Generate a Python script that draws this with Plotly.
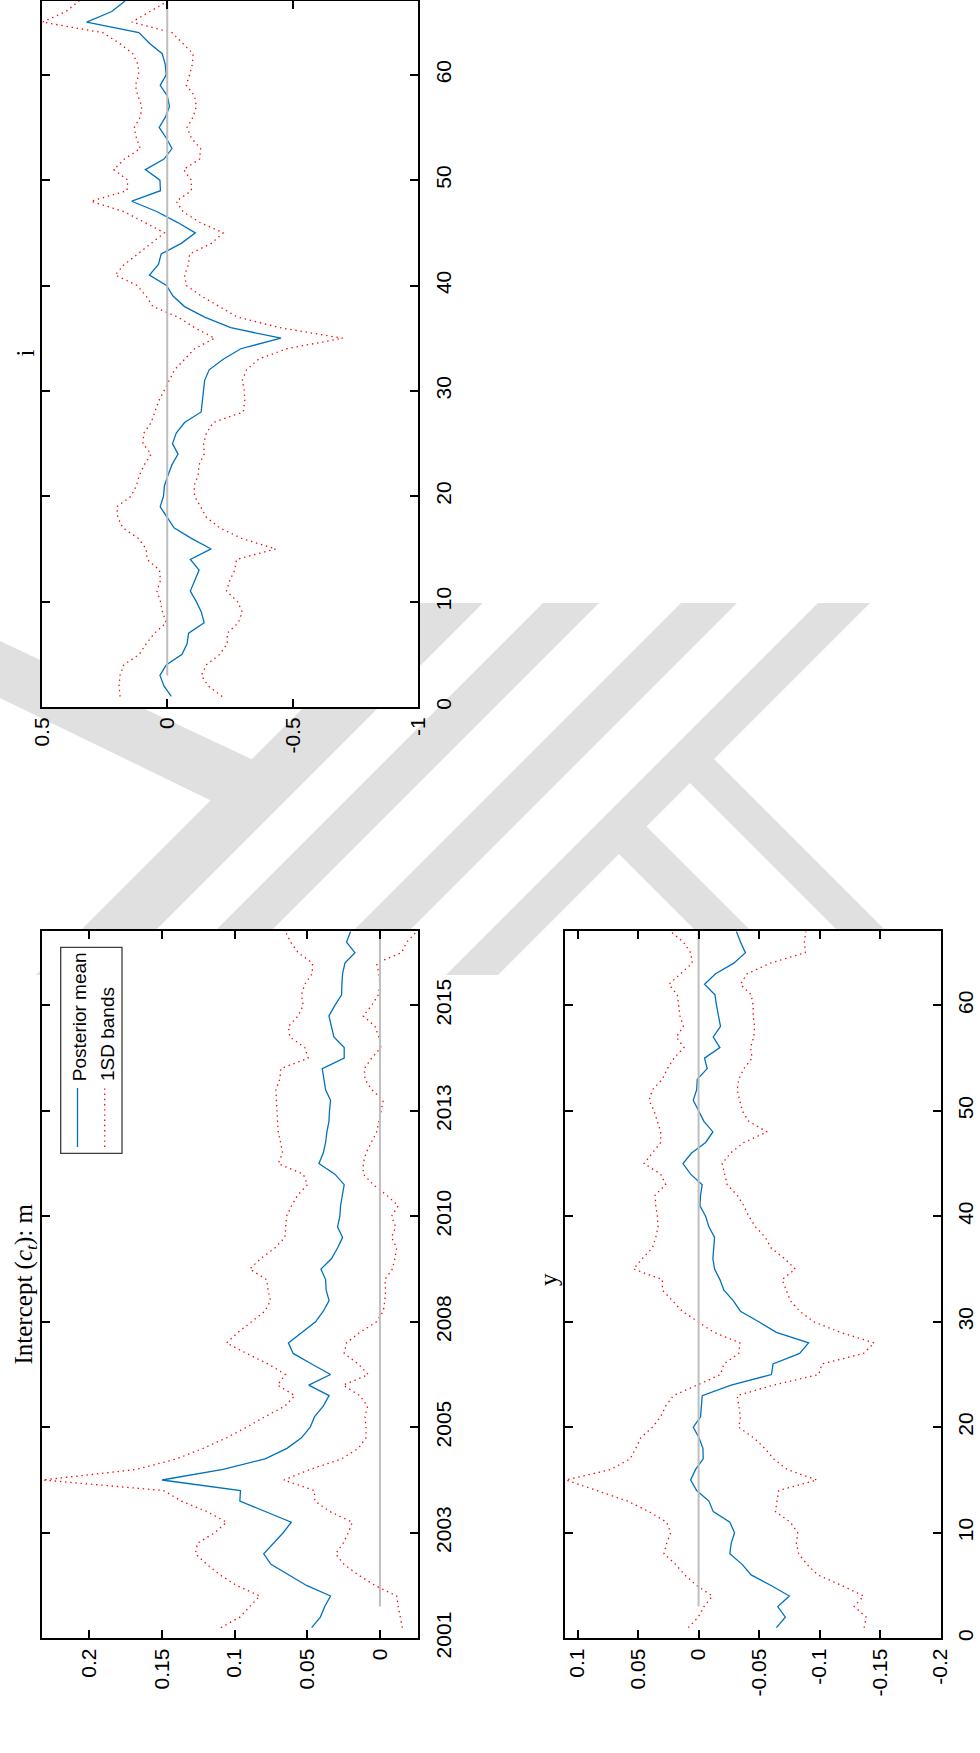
import plotly.graph_objects as go

# ---------------- data ----------------
T = list(range(1, 68))

i_mean = [-0.016, 0.013, 0.029, 0.004, -0.059, -0.079, -0.085, -0.147, -0.136, -0.116,
          -0.092, -0.109, -0.127, -0.092, -0.175, -0.096, -0.027, 0.000, 0.028, 0.015,
          0.011, -0.003, -0.019, -0.043, -0.021, -0.036, -0.069, -0.135, -0.140, -0.145,
          -0.149, -0.167, -0.223, -0.293, -0.453, -0.253, -0.149, -0.069, -0.023, 0.003,
          0.071, 0.035, 0.024, -0.056, -0.112, -0.040, 0.040, 0.141, 0.027, 0.029,
          0.087, 0.013, -0.019, 0.004, 0.032, 0.007, -0.009, 0.000, 0.028, 0.004,
          0.008, 0.020, 0.071, 0.113, 0.321, 0.221, 0.168]
i_upper = [0.188, 0.192, 0.188, 0.173, 0.111, 0.084, 0.051, 0.004, 0.019, 0.027,
           0.041, 0.027, 0.031, 0.080, 0.084, 0.115, 0.177, 0.197, 0.201, 0.144,
           0.123, 0.111, 0.091, 0.064, 0.097, 0.093, 0.064, 0.048, 0.035, 0.013,
           -0.007, -0.029, -0.069, -0.109, -0.189, -0.109, -0.043, 0.057, 0.084, 0.120,
           0.207, 0.171, 0.117, 0.064, 0.011, 0.091, 0.171, 0.304, 0.160, 0.157,
           0.213, 0.171, 0.107, 0.123, 0.131, 0.107, 0.101, 0.117, 0.127, 0.113,
           0.117, 0.137, 0.191, 0.257, 0.497, 0.404, 0.351]
i_lower = [-0.219, -0.163, -0.136, -0.156, -0.209, -0.239, -0.239, -0.283, -0.299, -0.280,
           -0.236, -0.249, -0.269, -0.276, -0.432, -0.296, -0.209, -0.156, -0.133, -0.109,
           -0.107, -0.123, -0.127, -0.147, -0.145, -0.156, -0.183, -0.303, -0.309, -0.307,
           -0.299, -0.316, -0.363, -0.476, -0.699, -0.449, -0.280, -0.209, -0.136, -0.076,
           -0.069, -0.085, -0.089, -0.176, -0.223, -0.129, -0.063, -0.036, -0.096, -0.096,
           -0.065, -0.129, -0.133, -0.096, -0.079, -0.103, -0.116, -0.109, -0.076, -0.089,
           -0.100, -0.103, -0.059, -0.019, 0.141, 0.071, -0.003]

c_mean = [0.047, 0.041, 0.038, 0.034, 0.0505, 0.063, 0.075, 0.080, 0.073, 0.0666,
          0.061, 0.0785, 0.0964, 0.096, 0.150, 0.108, 0.079, 0.064, 0.054, 0.048,
          0.045, 0.039, 0.035, 0.049, 0.034, 0.047, 0.0597, 0.063, 0.054, 0.0443,
          0.039, 0.035, 0.037, 0.0374, 0.0406, 0.0333, 0.0292, 0.0257, 0.0292, 0.0276,
          0.0271, 0.026, 0.0246, 0.031, 0.042, 0.039, 0.0374, 0.0365, 0.0351, 0.0347,
          0.034, 0.0374, 0.0386, 0.0397, 0.0246, 0.0246, 0.0317, 0.0333, 0.0351, 0.031,
          0.0264, 0.0262, 0.0257, 0.0241, 0.0172, 0.023, 0.0202]
c_upper = [0.1095, 0.0964, 0.0896, 0.0827, 0.0987, 0.110, 0.119, 0.127, 0.1256, 0.1137,
           0.1056, 0.119, 0.1366, 0.149, 0.232, 0.1676, 0.140, 0.1217, 0.1056, 0.0918,
           0.0792, 0.0654, 0.0586, 0.0705, 0.065, 0.077, 0.0918, 0.1056, 0.0976, 0.0884,
           0.0792, 0.0753, 0.077, 0.078, 0.0896, 0.082, 0.0723, 0.0654, 0.065, 0.0643,
           0.0608, 0.0567, 0.0498, 0.0528, 0.070, 0.067, 0.0684, 0.070, 0.0705, 0.0707,
           0.071, 0.0716, 0.0689, 0.0682, 0.0494, 0.0517, 0.062, 0.063, 0.0563, 0.0528,
           0.054, 0.0517, 0.0466, 0.0464, 0.0563, 0.0615, 0.065]
c_lower = [-0.0154, -0.0138, -0.0126, -0.0115, 0.0034, 0.0149, 0.0248, 0.0305, 0.0253, 0.0218,
           0.019, 0.0344, 0.0448, 0.0452, 0.0661, 0.0482, 0.0264, 0.0149, 0.0096, 0.0096,
           0.0103, 0.0085, 0.0138, 0.0253, 0.008, 0.0149, 0.0246, 0.023, 0.0138, 0.0023,
           -0.0023, -0.0034, -0.0039, -0.0034, -0.0085, -0.0103, -0.0115, -0.008, -0.0108, -0.008,
           -0.0126, -0.0046, 0.0046, 0.0115, 0.0115, 0.0096, 0.0057, 0.0023, 0.0007, -0.0007,
           -0.0023, 0.0057, 0.0103, 0.0108, 0.0057, -0.0007, 0.0007, 0.0034, 0.0115, 0.0057,
           0.0011, 0.0, 0.0007, 0.0023, -0.0149, -0.0184, -0.0253]

y_mean = [-0.0643, -0.0717, -0.0654, -0.075, -0.0599, -0.0434, -0.036, -0.0258, -0.0269, -0.0297,
          -0.0258, -0.0121, -0.0085, 0.0016, 0.0066, 0.0025, -0.0038, -0.0036, -0.0003, 0.0044,
          -0.0016, -0.0022, -0.003, -0.0269, -0.0602, -0.0615, -0.0835, -0.0909, -0.0643, -0.0497,
          -0.0346, -0.0286, -0.0209, -0.0176, -0.0132, -0.0118, -0.0126, -0.0132, -0.0085, -0.0058,
          -0.0011, -0.0016, -0.003, 0.0066, 0.0129, 0.0058, -0.0058, -0.0118, -0.0044, 0.0003,
          0.0044, 0.0016, 0.0011, -0.0071, -0.0049, -0.0176, -0.0121, -0.0181, -0.0162, -0.0148,
          -0.0135, -0.0049, -0.014, -0.0291, -0.0387, -0.0346, -0.0313]
y_upper = [0.0085, 0.0003, -0.0044, -0.0113, 0.0016, 0.0115, 0.019, 0.0286, 0.0264, 0.0231,
           0.0264, 0.0409, 0.0588, 0.0849, 0.1096, 0.0725, 0.0566, 0.0519, 0.0478, 0.0382,
           0.0313, 0.0272, 0.0209, 0.0011, -0.0181, -0.0209, -0.0332, -0.0341, -0.0126, 0.0005,
           0.0135, 0.0217, 0.0299, 0.0299, 0.0538, 0.0464, 0.0382, 0.0354, 0.0335, 0.0341,
           0.0354, 0.036, 0.0272, 0.0313, 0.0451, 0.0382, 0.0313, 0.0313, 0.0341, 0.0368,
           0.0409, 0.0382, 0.0299, 0.0258, 0.0203, 0.0121, 0.0184, 0.0126, 0.0154, 0.0162,
           0.0176, 0.0245, 0.0148, 0.0052, 0.0066, 0.0126, 0.0231]
y_lower = [-0.1368, -0.1385, -0.1286, -0.1363, -0.1184, -0.0984, -0.0896, -0.0827, -0.0808, -0.0819,
           -0.0758, -0.0635, -0.0648, -0.0662, -0.0978, -0.0731, -0.0621, -0.0547, -0.0456, -0.0332,
           -0.0346, -0.0332, -0.0319, -0.0621, -0.0992, -0.1019, -0.1363, -0.1451, -0.117, -0.0951,
           -0.0835, -0.0758, -0.0725, -0.069, -0.0799, -0.0709, -0.0599, -0.0552, -0.047, -0.0415,
           -0.0374, -0.0319, -0.0236, -0.0214, -0.0195, -0.0264, -0.0374, -0.0566, -0.0415, -0.036,
           -0.0338, -0.0319, -0.0332, -0.0374, -0.0442, -0.0429, -0.0456, -0.0462, -0.0451, -0.0451,
           -0.0434, -0.0346, -0.0401, -0.0593, -0.0882, -0.0874, -0.0887]

ZERO_T = [3, 67]
ZERO_V = [0, 0]

T_TICKS = [0, 10, 20, 30, 40, 50, 60]
T_TEXT_NUM = ["0", "10", "20", "30", "40", "50", "60"]
T_TEXT_YEAR = ["2001", "2003", "2005", "2008", "2010", "2013", "2015"]
I_VTICKS = [0.5, 0, -0.5, -1]
I_VTEXT = ["0.5", "0", "-0.5", "-1"]
C_VTICKS = [0.2, 0.15, 0.1, 0.05, 0]
C_VTEXT = ["0.2", "0.15", "0.1", "0.05", "0"]
Y_VTICKS = [0.1, 0.05, 0, -0.05, -0.1, -0.15, -0.2]
Y_VTEXT = ["0.1", "0.05", "0", "-0.05", "-0.1", "-0.15", "-0.2"]

# ---------------- layout helpers ----------------
W, H = 980, 1753
def fx(p): return p / W
def fy(p): return 1 - p / H

SANS = "Liberation Sans, Arial, sans-serif"
SERIF = "Liberation Serif, Times New Roman, serif"
BLUE = "rgb(0,114,189)"
RED = "rgb(255,0,0)"
GRAY = "rgb(190,190,190)"

# panel boxes in pixels: x0, x1, ytop, ybottom
P_I = (41.7, 418.3, 0.5, 707.0)
P_C = (41.7, 418.3, 931.0, 1638.2)
P_Y = (565.0, 941.0, 931.0, 1638.2)

fig = go.Figure()

def add_panel(idx, mean, up, lo):
    xa = "x" if idx == 1 else f"x{idx}"
    ya = "y" if idx == 1 else f"y{idx}"
    fig.add_trace(go.Scatter(x=mean, y=T, mode="lines", xaxis=xa, yaxis=ya,
                             line=dict(color=BLUE, width=1.3), showlegend=False))
    for band in (up, lo):
        fig.add_trace(go.Scatter(x=band, y=T, mode="lines", xaxis=xa, yaxis=ya,
                                 line=dict(color=RED, width=1.3, dash="1.4px,3.8px"),
                                 showlegend=False))
    fig.add_trace(go.Scatter(x=ZERO_V, y=ZERO_T, mode="lines", xaxis=xa, yaxis=ya,
                             line=dict(color=GRAY, width=2), showlegend=False))

add_panel(1, i_mean, i_upper, i_lower)
add_panel(2, c_mean, c_upper, c_lower)
add_panel(3, y_mean, y_upper, y_lower)

tickfont = dict(family=SANS, size=21, color="black")

def xaxis_cfg(box, rng, vals, text, anchor):
    return dict(domain=[fx(box[0]), fx(box[1])], range=rng, anchor=anchor,
                tickmode="array", tickvals=vals, ticktext=text, tickangle=-90,
                ticks="inside", ticklen=8, tickwidth=2, tickcolor="black",
                showline=True, linewidth=2, linecolor="black", mirror="ticks",
                showgrid=False, zeroline=False, tickfont=tickfont, side="bottom",
                automargin=False, fixedrange=True)

def yaxis_cfg(box, text, anchor):
    return dict(domain=[fy(box[3]), fy(box[2])], range=[0, 67.05], anchor=anchor,
                tickmode="array", tickvals=T_TICKS, ticktext=text, tickangle=-90,
                ticks="inside", ticklen=8, tickwidth=2, tickcolor="black",
                showline=True, linewidth=2, linecolor="black", mirror="ticks",
                showgrid=False, zeroline=False, tickfont=tickfont, side="right",
                ticklabelstandoff=5, automargin=False, fixedrange=True)

fig.update_layout(
    template="none",
    xaxis=xaxis_cfg(P_I, [0.5, -1.0], I_VTICKS, I_VTEXT, "y"),
    yaxis=yaxis_cfg(P_I, T_TEXT_NUM, "x"),
    xaxis2=xaxis_cfg(P_C, [0.2328, -0.0264], C_VTICKS, C_VTEXT, "y2"),
    yaxis2=yaxis_cfg(P_C, T_TEXT_YEAR, "x2"),
    xaxis3=xaxis_cfg(P_Y, [0.1104, -0.2003], Y_VTICKS, Y_VTEXT, "y3"),
    yaxis3=yaxis_cfg(P_Y, T_TEXT_NUM, "x3"),
)

# ---------------- watermark (background decoration) ----------------
def poly(pts):
    return "M " + " L ".join(f"{fx(x):.5f},{fy(y):.5f}" for x, y in pts) + " Z"

WM = "rgb(225,224,224)"
shapes = []
wm_polys = []
for a, b in [(408, 483), (543, 599), (681, 737), (818, 870)]:
    d = 975 - 603
    wm_polys.append([(a, 603), (b, 603), (b - d, 975), (a - d, 975)])
wm_polys.append([(0, 641), (262, 764), (218, 804), (0, 698)])
wm_polys.append([(707.5, 752.5), (930, 975), (882, 975), (683.5, 776.5)])
wm_polys.append([(640, 820), (795, 975), (740, 975), (612.5, 847.5)])
for p in wm_polys:
    shapes.append(dict(type="path", path=poly(p), xref="paper", yref="paper",
                       fillcolor=WM, line=dict(width=0), layer="below"))
for box in (P_I, P_C, P_Y):
    shapes.append(dict(type="rect", xref="paper", yref="paper",
                       x0=fx(box[0]), x1=fx(box[1]), y0=fy(box[3]), y1=fy(box[2]),
                       fillcolor="white", line=dict(width=0), layer="below"))

# ---------------- legend (rotated, drawn manually) ----------------
shapes.append(dict(type="rect", xref="paper", yref="paper",
                   x0=fx(60.7), x1=fx(122.0), y0=fy(1153.3), y1=fy(947.3),
                   fillcolor="white", line=dict(color="rgb(60,60,60)", width=1.3)))
shapes.append(dict(type="line", xref="paper", yref="paper",
                   x0=fx(77.5), x1=fx(77.5), y0=fy(1147), y1=fy(1088),
                   line=dict(color=BLUE, width=1.3)))
shapes.append(dict(type="line", xref="paper", yref="paper",
                   x0=fx(104.7), x1=fx(104.7), y0=fy(1147), y1=fy(1088),
                   line=dict(color=RED, width=1.3, dash="1.4px,3.8px")))

annotations = [
    dict(text="Posterior mean", x=fx(79.7), y=fy(1082), xanchor="center", yanchor="bottom"),
    dict(text="1SD bands", x=fx(107.0), y=fy(1082), xanchor="center", yanchor="bottom"),
]
for a in annotations:
    a.update(xref="paper", yref="paper", showarrow=False, textangle=-90,
             font=dict(family=SANS, size=19, color="black"), borderpad=0)

titles = [
    dict(text="i", x=fx(25.0), y=fy(353.5)),
    dict(text="Intercept (<i>c</i><sub><i>t</i></sub>): m", x=fx(25.0), y=fy(1284.5)),
    dict(text="y", x=fx(548.0), y=fy(1280.0)),
]
for a in titles:
    a.update(xref="paper", yref="paper", showarrow=False, textangle=-90,
             xanchor="center", yanchor="middle",
             font=dict(family=SERIF, size=25, color="black"))

fig.update_layout(
    width=W, height=H, autosize=False,
    margin=dict(l=0, r=0, t=0, b=0, autoexpand=False),
    paper_bgcolor="white", plot_bgcolor="white",
    shapes=shapes, annotations=annotations + titles,
    showlegend=False, hovermode=False, dragmode=False,
)

fig.write_html("out.html", config={"displayModeBar": False, "staticPlot": True},
               post_script="document.body.style.margin='0px';")
